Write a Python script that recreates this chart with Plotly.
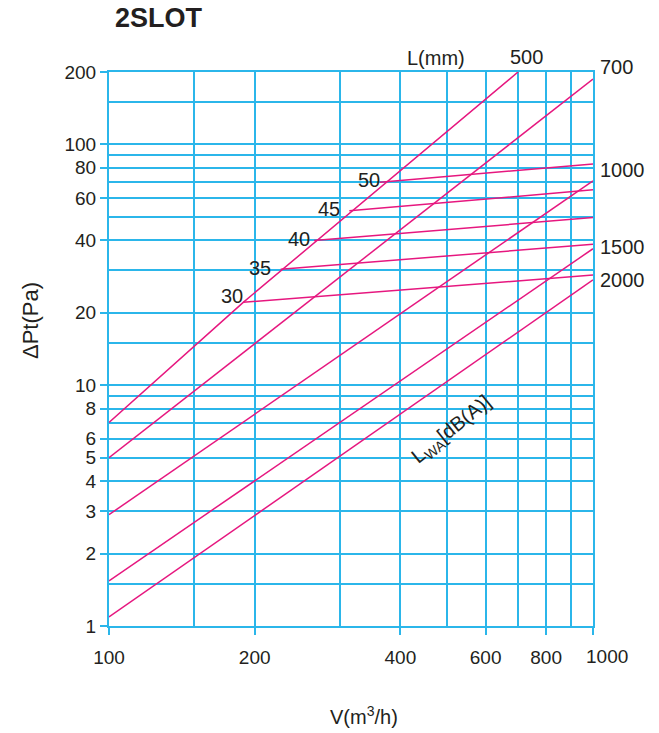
import math
import plotly.graph_objects as go

# ---------------- data ----------------
# Pressure-drop curves per slot length L (mm)
L500_V = [100, 189.4, 700]
L500_P = [7.0, 22.1, 200]
L700_V = [100, 1000]
L700_P = [5.0, 187]
L1000_V = [100, 1000]
L1000_P = [2.9, 70.6]
L1500_V = [100, 1000]
L1500_P = [1.54, 36.9]
L2000_V = [100, 1000]
L2000_P = [1.09, 27.4]
length_names = ["500", "700", "1000", "1500", "2000"]

# Sound power level lines LwA [dB(A)]
DB30_V = [189.4, 1000]
DB30_P = [22.1, 28.7]
DB35_V = [226.3, 1000]
DB35_P = [30.3, 38.5]
DB40_V = [265.2, 1000]
DB40_P = [39.9, 49.7]
DB45_V = [313.7, 1000]
DB45_P = [53.0, 64.8]
DB50_V = [363, 1000]
DB50_P = [69.7, 83.0]
db_names = ["30", "35", "40", "45", "50"]

# Axis ticks
x_tickvals = [100, 200, 400, 600, 800, 1000]
x_ticktext = ["100", "200", "400", "600", "800", ""]
x_last_label = "1000"
x_minor = [150, 300, 500, 700, 900]
y_tickvals = [1, 2, 3, 4, 5, 6, 8, 10, 20, 40, 60, 80, 100, 200]
y_ticktext = ["1", "2", "3", "4", "5", "6", "8", "10", "20", "40", "60", "80", "100", "200"]
y_minor = [1.5, 7, 9, 15, 30, 50, 70, 90, 150]

# ---------------- style ----------------
W, H = 659, 733
L_M, R_M, T_M, B_M = 109, 66, 72, 107
PW = W - L_M - R_M
PH = H - T_M - B_M
GRID = "#2bb6ea"
MAG = "#e6177f"
TXT = "#231f20"
FONT = "Liberation Sans, Arial, sans-serif"


def px(xp):
    return (xp - L_M) / PW


def py(yp):
    return (H - B_M - yp) / PH


fig = go.Figure()

curves = [(L500_V, L500_P), (L700_V, L700_P), (L1000_V, L1000_P),
          (L1500_V, L1500_P), (L2000_V, L2000_P)]
for (v, p), n in zip(curves, length_names):
    fig.add_trace(go.Scatter(x=v, y=p, mode="lines", name="L=" + n,
                             line=dict(color=MAG, width=1.5)))

dbs = [(DB30_V, DB30_P), (DB35_V, DB35_P), (DB40_V, DB40_P),
       (DB45_V, DB45_P), (DB50_V, DB50_P)]
for (v, p), n in zip(dbs, db_names):
    fig.add_trace(go.Scatter(x=v, y=p, mode="lines", name=n + " dB",
                             line=dict(color=MAG, width=1.5)))

ann = []


def add_text(text, xp, yp, size=20, xanchor="center", angle=0, bold=False):
    ann.append(dict(text=("<b>%s</b>" % text) if bold else text,
                    x=px(xp), y=py(yp), xref="paper", yref="paper",
                    xanchor=xanchor, yanchor="middle", showarrow=False,
                    textangle=angle,
                    font=dict(family=FONT, size=size, color=TXT)))


add_text("2SLOT", 113, 18, size=27, xanchor="left", bold=True)
add_text("L(mm)", 436, 57.5)
add_text("500", 526.5, 56.5)
add_text("700", 598, 66.5, xanchor="left")
add_text("1000", 598, 170, xanchor="left")
add_text("1500", 598, 246.5, xanchor="left")
add_text("2000", 598, 280, xanchor="left")
add_text("30", 231.5, 296)
add_text("35", 259.5, 267.5)
add_text("40", 299, 239.5)
add_text("45", 329, 209)
add_text("50", 368.5, 179.5)
add_text("L<sub>WA</sub>[dB(A)]", 451, 430, angle=-39)
add_text("\u0394Pt(Pa)", 30, 321, size=22, angle=-90)
add_text("V(m<sup>3</sup>/h)", 364, 715)

# last x tick label, placed at its data position and nudged right as in the original
ann.append(dict(text=x_last_label, x=math.log10(x_tickvals[-1]), xref="x",
                y=py(656), yref="paper", xanchor="center", yanchor="middle",
                xshift=14, showarrow=False,
                font=dict(family=FONT, size=19, color=TXT)))

axis_common = dict(
    type="log",
    showgrid=True, gridcolor=GRID, gridwidth=2,
    showline=True, linecolor=GRID, linewidth=2,
    ticks="outside", ticklen=7, tickwidth=2, tickcolor=GRID,
    tickfont=dict(family=FONT, size=19, color=TXT),
    zeroline=False, tickmode="array", tickangle=0, automargin=False,
)

fig.update_layout(
    width=W, height=H,
    margin=dict(l=L_M, r=R_M, t=T_M, b=B_M),
    paper_bgcolor="white", plot_bgcolor="white",
    showlegend=False,
    annotations=ann,
    xaxis=dict(axis_common, range=[2, 3], tickvals=x_tickvals, ticktext=x_ticktext,
               mirror=True, ticklabelstandoff=6,
               minor=dict(tickmode="array", tickvals=x_minor, showgrid=True,
                          gridcolor=GRID, gridwidth=2, ticks="")),
    yaxis=dict(axis_common, range=[0, math.log10(200)], tickvals=y_tickvals,
               ticktext=y_ticktext, mirror=True,
               minor=dict(tickmode="array", tickvals=y_minor, showgrid=True,
                          gridcolor=GRID, gridwidth=2, ticks="")),
)

fig.write_html("out.html", config={"displayModeBar": False},
               post_script="document.body.style.margin='0';")
